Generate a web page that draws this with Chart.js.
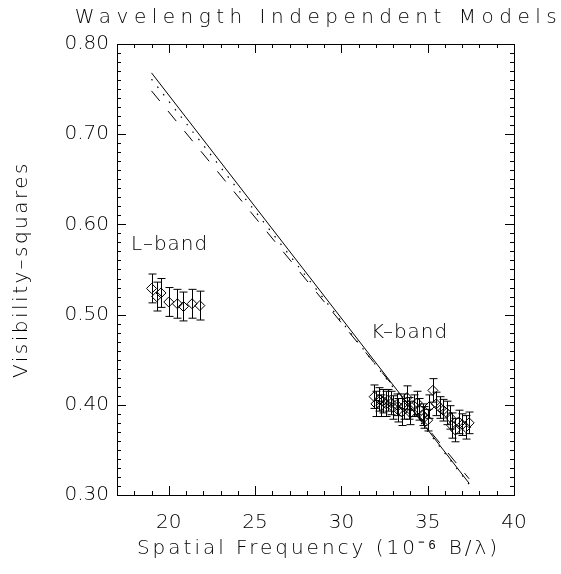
<!DOCTYPE html>
<html>
<head>
<meta charset="utf-8">
<script src="https://cdn.jsdelivr.net/npm/chart.js@4.4.1/dist/chart.umd.min.js"></script>
<style>
  html, body { margin: 0; padding: 0; background: #fff; }
  #wrap { width: 561px; height: 574px; position: relative; }
</style>
</head>
<body>
<div id="wrap"><canvas id="chart"></canvas></div>
<script>
// L-band measurements
const lbandFreq = [19.0, 19.3, 19.55, 20.0, 20.5, 20.85, 21.35, 21.8];
const lbandVis  = [0.529, 0.520, 0.524, 0.514, 0.512, 0.509, 0.512, 0.510];
const lbandErr  = [0.016, 0.016, 0.016, 0.016, 0.016, 0.016, 0.016, 0.016];

// K-band measurements
const kbandFreq = [31.9, 32.0, 32.2, 32.3, 32.4, 32.6, 32.7, 32.9, 33.0, 33.2, 33.3, 33.5,
  33.6, 33.8, 33.9, 34.0, 34.2, 34.4, 34.5, 34.7, 34.8, 35.0, 35.1, 35.3, 35.5, 35.7,
  35.9, 36.1, 36.3, 36.4, 36.6, 36.8, 37.0, 37.2, 37.4];
const kbandVis  = [0.409, 0.401, 0.406, 0.399, 0.404, 0.401, 0.405, 0.402, 0.397, 0.400, 0.394, 0.392,
  0.398, 0.408, 0.396, 0.391, 0.399, 0.402, 0.395, 0.389, 0.386, 0.383, 0.398, 0.416, 0.401, 0.397,
  0.394, 0.391, 0.386, 0.377, 0.372, 0.381, 0.378, 0.375, 0.380];
const kbandErr  = [0.013, 0.014, 0.013, 0.012, 0.013, 0.014, 0.012, 0.013, 0.013, 0.012, 0.013, 0.015,
  0.014, 0.013, 0.012, 0.013, 0.012, 0.013, 0.012, 0.012, 0.012, 0.012, 0.013, 0.013, 0.013, 0.012,
  0.012, 0.013, 0.013, 0.014, 0.013, 0.013, 0.012, 0.013, 0.012];

// model curves (straight over this range)
const modelFreq   = [19.0, 37.4];
const modelSolid  = [0.768, 0.313];
const modelDotted = [0.761, 0.312];
const modelDashed = [0.748, 0.318];

const xTicks = [20, 25, 30, 35, 40];
const yTicks = [0.30, 0.40, 0.50, 0.60, 0.70, 0.80];

const FONT = "'DejaVu Sans', sans-serif";
const pts = (xs, ys) => xs.map((v, i) => ({ x: v, y: ys[i] }));

const errorBars = {
  id: 'errorBars',
  afterDatasetsDraw(chart) {
    const { ctx, scales: { x, y } } = chart;
    ctx.save();
    ctx.strokeStyle = '#000';
    ctx.lineWidth = 1;
    chart.data.datasets.forEach(ds => {
      if (!ds.err) return;
      ds.data.forEach((p, i) => {
        const px = Math.round(x.getPixelForValue(p.x)) + 0.5;
        const top = y.getPixelForValue(p.y + ds.err[i]);
        const bot = y.getPixelForValue(p.y - ds.err[i]);
        ctx.beginPath();
        ctx.moveTo(px, top); ctx.lineTo(px, bot);
        ctx.moveTo(px - 4, top); ctx.lineTo(px + 4, top);
        ctx.moveTo(px - 4, bot); ctx.lineTo(px + 4, bot);
        ctx.stroke();
      });
    });
    ctx.restore();
  }
};

const frame = {
  id: 'frame',
  afterDraw(chart) {
    const { ctx, chartArea: a, scales: { x, y } } = chart;
    ctx.save();
    ctx.strokeStyle = '#000';
    ctx.lineWidth = 1;
    ctx.strokeRect(a.left + 0.5, a.top + 0.5, a.right - a.left, a.bottom - a.top);
    ctx.beginPath();
    for (let v = 17; v <= 40; v++) {
      const px = Math.round(x.getPixelForValue(v)) + 0.5;
      const len = v % 5 === 0 ? 9 : 4;
      ctx.moveTo(px, a.bottom); ctx.lineTo(px, a.bottom - len);
      ctx.moveTo(px, a.top); ctx.lineTo(px, a.top + len);
    }
    for (let i = 30; i <= 80; i++) {
      const py = Math.round(y.getPixelForValue(i / 100)) + 0.5;
      const len = i % 10 === 0 ? 9 : 4;
      ctx.moveTo(a.left, py); ctx.lineTo(a.left + len, py);
      ctx.moveTo(a.right, py); ctx.lineTo(a.right - len, py);
    }
    ctx.stroke();

    ctx.fillStyle = '#000';
    ctx.font = '200 20px ' + FONT;
    ctx.textAlign = 'center';
    ctx.textBaseline = 'middle';
    ctx.letterSpacing = '1px';
    ctx.fillText('L\u2013band', x.getPixelForValue(20.05), y.getPixelForValue(0.577));
    ctx.fillText('K\u2013band', x.getPixelForValue(33.95), y.getPixelForValue(0.48));

    // axis titles
    ctx.letterSpacing = '3px';
    ctx.fillText('Spatial Frequency (10\u207B\u2076 B/\u03BB)', (a.left + a.right) / 2 + 3, 549);
    ctx.save();
    ctx.translate(22, (a.top + a.bottom) / 2);
    ctx.rotate(-Math.PI / 2);
    ctx.letterSpacing = '2.5px';
    ctx.fillText('Visibility\u2013squares', 0, 0);
    ctx.restore();

    // title
    ctx.letterSpacing = '5.5px';
    ctx.fillText('Wavelength Independent Models', (a.left + a.right) / 2 + 3, 18);
    ctx.restore();
  }
};

new Chart(document.getElementById('chart'), {
  type: 'scatter',
  data: {
    datasets: [
      {
        label: 'L-band',
        data: pts(lbandFreq, lbandVis),
        err: lbandErr,
        pointStyle: 'rectRot',
        pointRadius: 5,
        backgroundColor: 'rgba(0,0,0,0)',
        borderColor: '#000',
        borderWidth: 1
      },
      {
        label: 'K-band',
        data: pts(kbandFreq, kbandVis),
        err: kbandErr,
        pointStyle: 'rectRot',
        pointRadius: 5,
        backgroundColor: 'rgba(0,0,0,0)',
        borderColor: '#000',
        borderWidth: 1
      },
      {
        type: 'line',
        label: 'model solid',
        data: pts(modelFreq, modelSolid),
        borderColor: '#000',
        borderWidth: 1,
        pointRadius: 0
      },
      {
        type: 'line',
        label: 'model dotted',
        data: pts(modelFreq, modelDotted),
        borderColor: '#000',
        borderWidth: 1.2,
        borderDash: [1.5, 8],
        pointRadius: 0
      },
      {
        type: 'line',
        label: 'model dashed',
        data: pts(modelFreq, modelDashed),
        borderColor: '#000',
        borderWidth: 1,
        borderDash: [13, 13],
        pointRadius: 0
      }
    ]
  },
  options: {
    responsive: true,
    maintainAspectRatio: false,
    animation: false,
    layout: { padding: { left: 0, right: 47, top: 44, bottom: 0 } },
    plugins: {
      legend: { display: false },
      tooltip: { enabled: false }
    },
    scales: {
      x: {
        type: 'linear',
        min: 17,
        max: 40,
        afterFit: s => { s.height = 79; },
        afterBuildTicks: s => { s.ticks = xTicks.map(v => ({ value: v })); },
        grid: { display: false, drawTicks: false },
        border: { display: false },
        ticks: { color: '#000', padding: 16, font: { family: FONT, size: 20, weight: 200 } }
      },
      y: {
        type: 'linear',
        min: 0.30,
        max: 0.80,
        afterFit: s => { s.width = 117; },
        afterBuildTicks: s => { s.ticks = yTicks.map(v => ({ value: v })); },
        grid: { display: false, drawTicks: false },
        border: { display: false },
        ticks: {
          color: '#000',
          padding: 8,
          font: { family: FONT, size: 20, weight: 200 },
          callback: v => v.toFixed(2)
        }
      }
    }
  },
  plugins: [errorBars, frame]
});
</script>
</body>
</html>
